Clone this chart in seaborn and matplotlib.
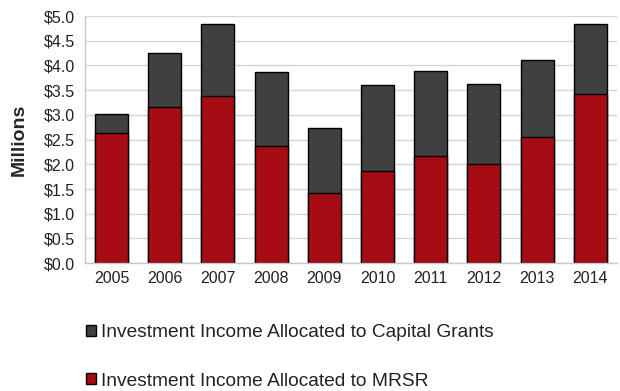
import pandas as pd
import matplotlib
matplotlib.use("Agg")
import matplotlib.pyplot as plt
import seaborn as sns
from matplotlib.patches import Patch

years = ["2005", "2006", "2007", "2008", "2009", "2010", "2011", "2012", "2013", "2014"]
mrsr = [2.64, 3.16, 3.38, 2.37, 1.42, 1.87, 2.16, 2.01, 2.56, 3.42]
capital_grants = [0.37, 1.10, 1.46, 1.50, 1.31, 1.73, 1.73, 1.62, 1.55, 1.42]

RED = "#A50D12"
GRAY = "#404040"

df = pd.DataFrame({"Year": years, "MRSR": mrsr, "Capital Grants": capital_grants})
df["Total"] = df["MRSR"] + df["Capital Grants"]

sns.set_style("white")
plt.rcParams["font.family"] = ["Liberation Sans", "DejaVu Sans"]

fig = plt.figure(figsize=(6.2, 3.91), dpi=100)
ax = fig.add_axes([0.137, 0.327, 0.858, 0.632])

# stacked: draw total in gray, then MRSR in red over it
sns.barplot(data=df, x="Year", y="Total", color=GRAY, saturation=1,
            edgecolor="black", linewidth=1.0, width=0.62, ax=ax)
sns.barplot(data=df, x="Year", y="MRSR", color=RED, saturation=1,
            edgecolor="black", linewidth=1.0, width=0.62, ax=ax)

ax.set_ylim(0, 5.0)
ax.set_xlim(-0.5, len(years) - 0.5)
ticks = [i * 0.5 for i in range(11)]
ax.set_yticks(ticks)
ax.set_yticklabels([f"${t:.1f}" for t in ticks], fontsize=11.5, color="#222222")
ax.tick_params(axis="x", labelsize=11.5, labelcolor="#222222", length=0, pad=6)
ax.tick_params(axis="y", length=5, width=1, color="#C8C8C8", pad=2)
ax.set_xticks([i - 0.5 for i in range(len(years) + 1)], minor=True)
ax.tick_params(axis="x", which="minor", length=5, color="#C8C8C8", width=1)

ax.set_axisbelow(True)
ax.yaxis.grid(True, color="#D6D6D6", linewidth=1)
for side in ["top", "right"]:
    ax.spines[side].set_visible(False)
for side in ["left", "bottom"]:
    ax.spines[side].set_color("#C8C8C8")
    ax.spines[side].set_linewidth(1)

ax.set_xlabel("")
ax.set_ylabel("Millions", fontsize=14, fontweight="bold", labelpad=12)

handles = [
    Patch(facecolor=GRAY, edgecolor="black", linewidth=1),
    Patch(facecolor=RED, edgecolor="black", linewidth=1),
]
labels = [
    "Investment Income Allocated to Capital Grants",
    "Investment Income Allocated to MRSR",
]
fig.legend(handles, labels, loc="upper left", bbox_to_anchor=(86 / 620, 1 - 324 / 391),
           frameon=False, fontsize=13.8, handlelength=0.5, handleheight=0.5,
           handletextpad=0.3, labelspacing=1.65, borderaxespad=0, borderpad=0,
           labelcolor="#222222")

plt.savefig("out.png", dpi=100)
